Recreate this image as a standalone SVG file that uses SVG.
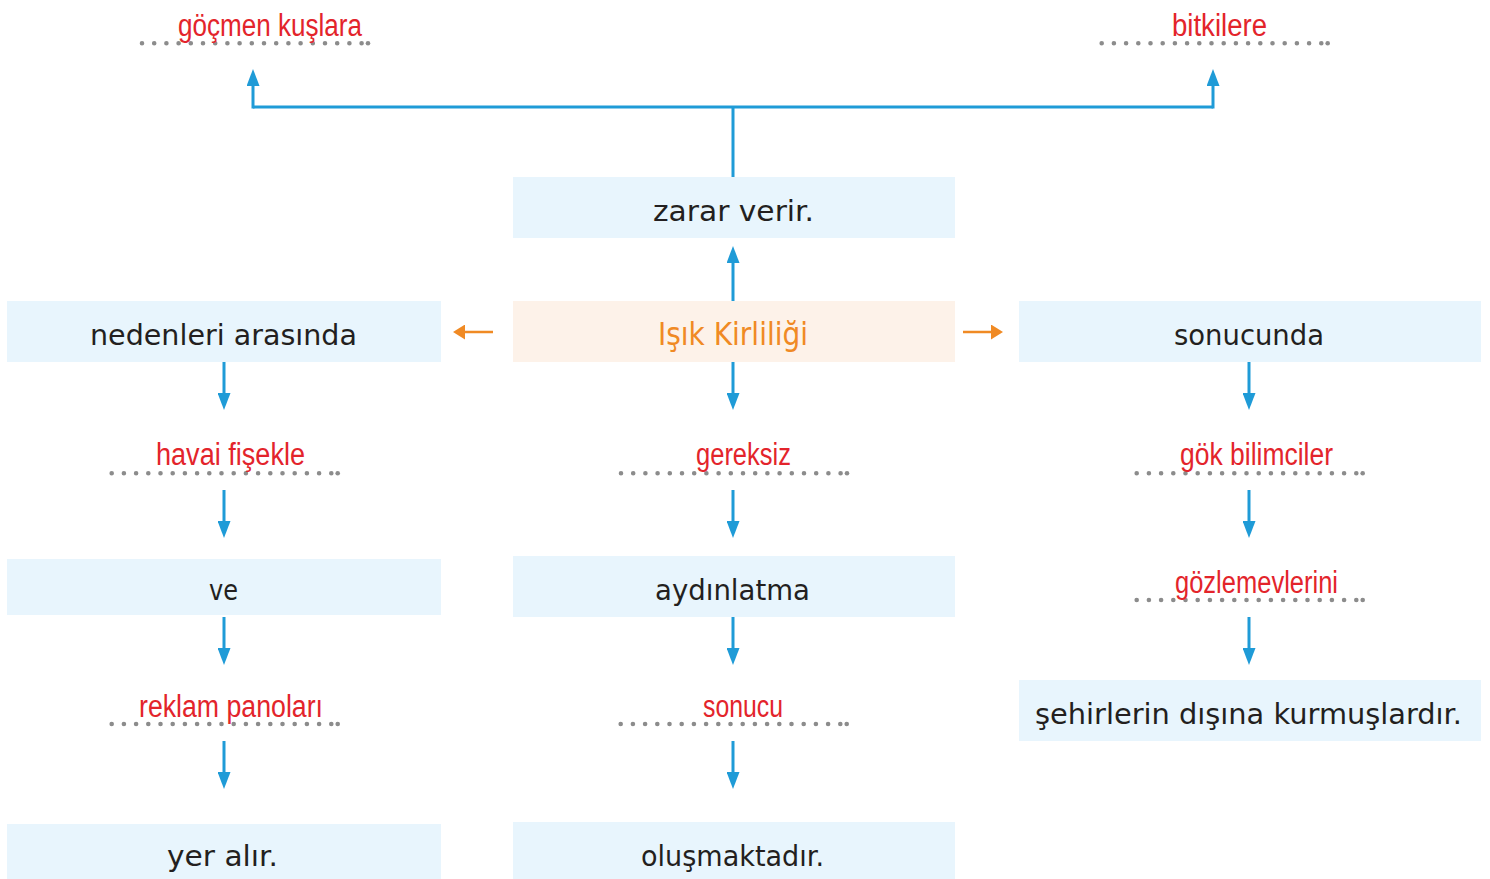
<svg xmlns="http://www.w3.org/2000/svg" width="1490" height="879" viewBox="0 0 1490 879">
<style>
.box{fill:#e8f5fd}
.obox{fill:#fdf2e9}
.t{font-family:"DejaVu Sans","Liberation Sans",sans-serif;font-size:28px;fill:#231f20;text-anchor:middle}
.ot{font-family:"DejaVu Sans","Liberation Sans",sans-serif;font-size:32px;fill:#f08a24;text-anchor:middle}
.r{font-family:"Liberation Sans",sans-serif;font-size:31px;fill:#e3242b;text-anchor:middle}
.dots{stroke:#8c8c8c;stroke-width:4.6;stroke-linecap:round;stroke-dasharray:0 12.2;fill:none}
.dot{fill:#8c8c8c}
.c{stroke:#1f9bd7;stroke-width:3;fill:none}
.oc{stroke:#f08a24;stroke-width:2.6;fill:none}
</style>
<defs>
<marker id="ah" viewBox="0 0 17 13" refX="9" refY="6.5" markerWidth="17" markerHeight="13" markerUnits="userSpaceOnUse" orient="auto">
<path d="M0,0 L17,6.5 L0,13 z" fill="#1f9bd7"/>
</marker>
<marker id="oah" viewBox="0 0 12 15" refX="5" refY="7.5" markerWidth="12" markerHeight="15" markerUnits="userSpaceOnUse" orient="auto">
<path d="M0,0 L12,7.5 L0,15 z" fill="#f08a24"/>
</marker>
</defs>
<rect width="1490" height="879" fill="#ffffff"/>

<g id="connectors">
<path class="c" d="M733,177 V107 M253,107 H1213"/>
<path class="c" d="M253,108.5 V77" marker-end="url(#ah)"/>
<path class="c" d="M1213,108.5 V77" marker-end="url(#ah)"/>
<path class="c" d="M733,301 V254" marker-end="url(#ah)"/>
<path class="oc" d="M493,332 H460" marker-end="url(#oah)"/>
<path class="oc" d="M963,332 H996" marker-end="url(#oah)"/>
<path class="c" d="M224,362 V402" marker-end="url(#ah)"/>
<path class="c" d="M224,490 V530" marker-end="url(#ah)"/>
<path class="c" d="M224,617 V657" marker-end="url(#ah)"/>
<path class="c" d="M224,741 V781" marker-end="url(#ah)"/>
<path class="c" d="M733,362 V402" marker-end="url(#ah)"/>
<path class="c" d="M733,490 V530" marker-end="url(#ah)"/>
<path class="c" d="M733,617 V657" marker-end="url(#ah)"/>
<path class="c" d="M733,741 V781" marker-end="url(#ah)"/>
<path class="c" d="M1249,362 V402" marker-end="url(#ah)"/>
<path class="c" d="M1249,490 V530" marker-end="url(#ah)"/>
<path class="c" d="M1249,617 V657" marker-end="url(#ah)"/>
</g>

<g id="n-zarar"><rect class="box" x="513" y="177" width="442" height="61"/><text class="t" x="733.5" y="221" textLength="161" lengthAdjust="spacingAndGlyphs">zarar  verir.</text></g>
<g id="n-isik"><rect class="obox" x="513" y="301" width="442" height="61"/><text class="ot" x="733" y="345" textLength="150" lengthAdjust="spacingAndGlyphs">Işık Kirliliği</text></g>
<g id="n-nedenleri"><rect class="box" x="7" y="301" width="434" height="61"/><text class="t" x="223.5" y="345" textLength="267" lengthAdjust="spacingAndGlyphs">nedenleri  arasında</text></g>
<g id="n-sonucunda"><rect class="box" x="1019" y="301" width="462" height="61"/><text class="t" x="1249" y="345" textLength="150" lengthAdjust="spacingAndGlyphs">sonucunda</text></g>
<g id="n-ve"><rect class="box" x="7" y="559" width="434" height="56"/><text class="t" x="223.5" y="600" textLength="29" lengthAdjust="spacingAndGlyphs">ve</text></g>
<g id="n-aydinlatma"><rect class="box" x="513" y="556" width="442" height="61"/><text class="t" x="732.5" y="600" textLength="155" lengthAdjust="spacingAndGlyphs">aydınlatma</text></g>
<g id="n-sehirlerin"><rect class="box" x="1019" y="680" width="462" height="61"/><text class="t" x="1248.5" y="724" textLength="427" lengthAdjust="spacingAndGlyphs">şehirlerin  dışına  kurmuşlardır.</text></g>
<g id="n-yer"><rect class="box" x="7" y="824" width="434" height="55"/><text class="t" x="222.5" y="866" textLength="111" lengthAdjust="spacingAndGlyphs">yer  alır.</text></g>
<g id="n-olusmaktadir"><rect class="box" x="513" y="822" width="442" height="57"/><text class="t" x="732.5" y="866" textLength="183" lengthAdjust="spacingAndGlyphs">oluşmaktadır.</text></g>

<g id="a-gocmen"><line class="dots" x1="142" y1="43.3" x2="361.7" y2="43.3"/><circle class="dot" cx="368" cy="43.3" r="2.3"/><text class="r" x="270" y="36" textLength="184" lengthAdjust="spacingAndGlyphs">göçmen kuşlara</text></g>
<g id="a-bitkilere"><line class="dots" x1="1101.7" y1="43.3" x2="1321.4" y2="43.3"/><circle class="dot" cx="1327.7" cy="43.3" r="2.3"/><text class="r" x="1219.5" y="36" textLength="95" lengthAdjust="spacingAndGlyphs">bitkilere</text></g>
<g id="a-havai"><line class="dots" x1="111.7" y1="473.3" x2="331.4" y2="473.3"/><circle class="dot" cx="337.7" cy="473.3" r="2.3"/><text class="r" x="230.5" y="465" textLength="149" lengthAdjust="spacingAndGlyphs">havai fişekle</text></g>
<g id="a-gereksiz"><line class="dots" x1="621" y1="473.3" x2="840.7" y2="473.3"/><circle class="dot" cx="847" cy="473.3" r="2.3"/><text class="r" x="743.5" y="465" textLength="95" lengthAdjust="spacingAndGlyphs">gereksiz</text></g>
<g id="a-gok"><line class="dots" x1="1136.7" y1="473.3" x2="1356.4" y2="473.3"/><circle class="dot" cx="1362.7" cy="473.3" r="2.3"/><text class="r" x="1256.5" y="465" textLength="153" lengthAdjust="spacingAndGlyphs">gök bilimciler</text></g>
<g id="a-gozlem"><line class="dots" x1="1136.7" y1="600" x2="1356.4" y2="600"/><circle class="dot" cx="1362.7" cy="600" r="2.3"/><text class="r" x="1256.5" y="593" textLength="163" lengthAdjust="spacingAndGlyphs">gözlemevlerini</text></g>
<g id="a-reklam"><line class="dots" x1="111.7" y1="724" x2="331.4" y2="724"/><circle class="dot" cx="337.7" cy="724" r="2.3"/><text class="r" x="231" y="717" textLength="184" lengthAdjust="spacingAndGlyphs">reklam panoları</text></g>
<g id="a-sonucu"><line class="dots" x1="620.7" y1="724" x2="840.4" y2="724"/><circle class="dot" cx="846.7" cy="724" r="2.3"/><text class="r" x="743" y="717" textLength="80" lengthAdjust="spacingAndGlyphs">sonucu</text></g>
</svg>
